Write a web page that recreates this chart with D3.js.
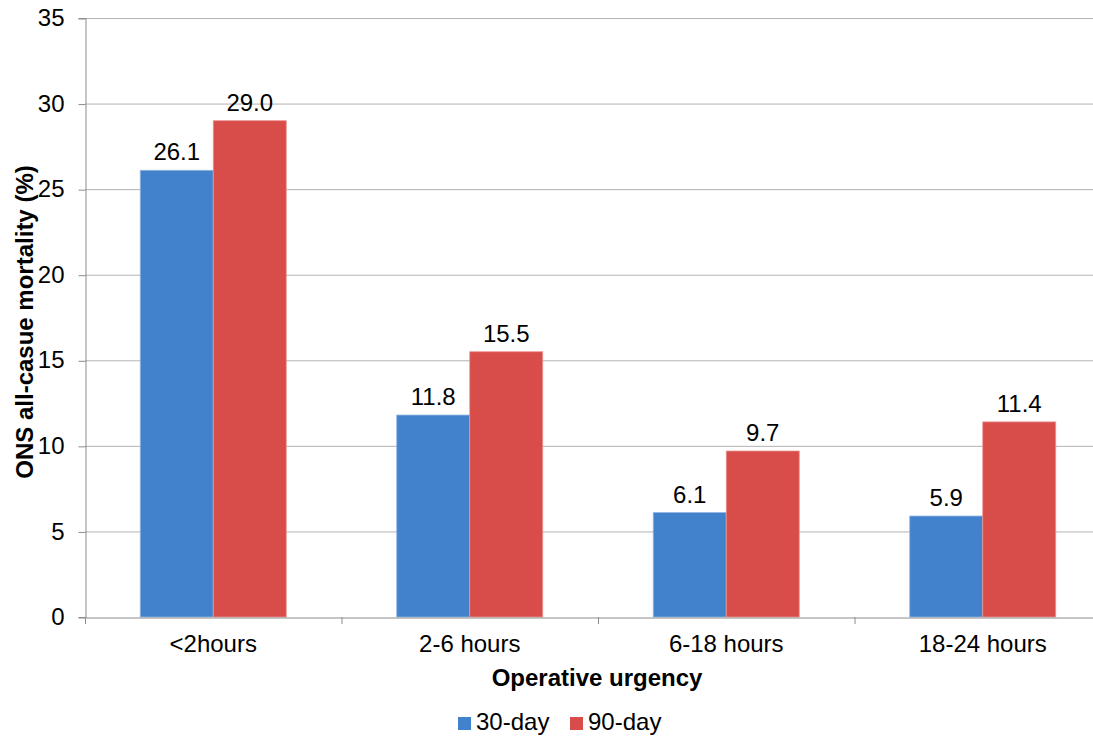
<!DOCTYPE html>
<html>
<head>
<meta charset="utf-8">
<script src="https://cdn.jsdelivr.net/npm/d3@7"></script>
<style>
  body { margin: 0; background: #fff; }
  svg { display: block; font-family: "Liberation Sans", Arial, Helvetica, sans-serif; }
</style>
</head>
<body>
<div id="chart"></div>
<script>
// chart data
var categories = ["<2hours", "2-6 hours", "6-18 hours", "18-24 hours"];
var seriesNames = ["30-day", "90-day"];
var day30 = [26.1, 11.8, 6.1, 5.9];
var day90 = [29.0, 15.5, 9.7, 11.4];
var yTicks = [0, 5, 10, 15, 20, 25, 30, 35];
var colors = ["#4281cb", "#d84c4a"];

var width = 1093, height = 737;
var margin = {top: 18, left: 85};
var plotRight = 1111, plotBottom = 617;
var fontSize = "24px";

var svg = d3.select("#chart")
    .append("svg")
    .attr("width", width)
    .attr("height", height);

var x = d3.scaleBand()
    .domain(categories)
    .range([margin.left, plotRight]);

var xInner = d3.scaleBand()
    .domain(seriesNames)
    .range([0, 146]);

var y = d3.scaleLinear()
    .domain([0, 35])
    .range([plotBottom, margin.top]);

// gridlines
svg.append("g")
    .selectAll("line")
    .data(yTicks.filter(function (d) { return d > 0; }))
    .enter().append("line")
    .attr("x1", margin.left)
    .attr("x2", width)
    .attr("y1", function (d) { return y(d) + 0.5; })
    .attr("y2", function (d) { return y(d) + 0.5; })
    .attr("stroke", "#b3b3b3")
    .attr("stroke-width", 1);

// y axis
var yAxis = svg.append("g")
    .attr("transform", "translate(" + (margin.left + 0.5) + ",0)")
    .call(d3.axisLeft(y).tickValues(yTicks).tickSize(7).tickPadding(14));
yAxis.select(".domain").attr("stroke", "#8c8c8c");
yAxis.selectAll(".tick line").attr("stroke", "#8c8c8c").attr("transform", "translate(0,0.5)");
yAxis.selectAll("text")
    .attr("font-size", fontSize)
    .attr("fill", "#000")
    .attr("font-family", "Liberation Sans, Arial, sans-serif");

// bars
var rows = categories.map(function (c, i) {
    return {cat: c, values: [day30[i], day90[i]]};
});

var group = svg.selectAll(".grp")
    .data(rows)
    .enter().append("g")
    .attr("class", "grp")
    .attr("transform", function (d) {
        return "translate(" + (x(d.cat) + (x.bandwidth() - 146) / 2) + ",0)";
    });

group.selectAll("rect")
    .data(function (d) { return d.values.map(function (v, j) { return {s: seriesNames[j], v: v, j: j}; }); })
    .enter().append("rect")
    .attr("x", function (d) { return xInner(d.s); })
    .attr("width", xInner.bandwidth())
    .attr("y", function (d) { return y(d.v); })
    .attr("height", function (d) { return plotBottom - y(d.v); })
    .attr("fill", function (d) { return colors[d.j]; })
    .attr("stroke", function (d) { return d.j === 0 ? "#8fb3e0" : "#eb9593"; })
    .attr("stroke-width", 0.8);

group.selectAll("text")
    .data(function (d) { return d.values.map(function (v, j) { return {s: seriesNames[j], v: v}; }); })
    .enter().append("text")
    .attr("x", function (d) { return xInner(d.s) + xInner.bandwidth() / 2; })
    .attr("y", function (d) { return y(d.v) - 10; })
    .attr("text-anchor", "middle")
    .attr("font-size", fontSize)
    .text(function (d) { return d.v.toFixed(1); });

// x axis
var xAxis = svg.append("g")
    .attr("transform", "translate(0," + (plotBottom + 0.5) + ")")
    .call(d3.axisBottom(x).tickSize(0).tickPadding(17));
xAxis.select(".domain").attr("stroke", "#8c8c8c");
xAxis.selectAll("text")
    .attr("font-size", fontSize)
    .attr("fill", "#000")
    .attr("font-family", "Liberation Sans, Arial, sans-serif");

// category separator ticks
svg.append("g")
    .selectAll("line")
    .data(categories)
    .enter().append("line")
    .attr("x1", function (d) { return x(d) + 0.5; })
    .attr("x2", function (d) { return x(d) + 0.5; })
    .attr("y1", plotBottom)
    .attr("y2", plotBottom + 7)
    .attr("stroke", "#8c8c8c");

// axis titles
svg.append("text")
    .attr("x", 597)
    .attr("y", 686)
    .attr("text-anchor", "middle")
    .attr("font-size", fontSize)
    .attr("font-weight", "bold")
    .text("Operative urgency");

svg.append("text")
    .attr("transform", "translate(33,322) rotate(-90)")
    .attr("text-anchor", "middle")
    .attr("font-size", fontSize)
    .attr("font-weight", "bold")
    .text("ONS all-casue mortality (%)");

// legend
var legendX = [458, 570];
var legend = svg.selectAll(".legend")
    .data(seriesNames)
    .enter().append("g")
    .attr("class", "legend")
    .attr("transform", function (d, i) { return "translate(" + legendX[i] + ",717)"; });

legend.append("rect")
    .attr("width", 13)
    .attr("height", 13)
    .attr("fill", function (d, i) { return colors[i]; });

legend.append("text")
    .attr("x", 18)
    .attr("y", 13)
    .attr("font-size", fontSize)
    .text(function (d) { return d; });
</script>
</body>
</html>
